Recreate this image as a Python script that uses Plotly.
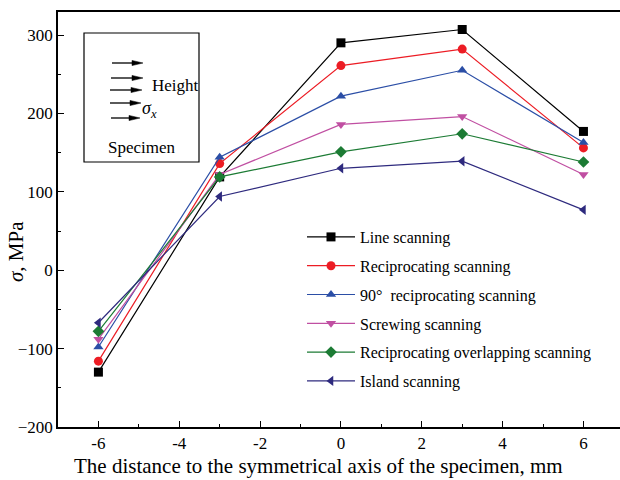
import plotly.graph_objects as go

x_mm = [-6, -3, 0, 3, 6]
series_names = [
    "Line scanning",
    "Reciprocating scanning",
    "90°  reciprocating scanning",
    "Screwing scanning",
    "Reciprocating overlapping scanning",
    "Island scanning",
]
line_scanning = [-130, 119, 290, 307, 177]
reciprocating = [-116, 136, 261, 282, 156]
reciprocating_90 = [-98, 144, 222, 255, 163]
screwing = [-88, 122, 186, 196, 122]
recip_overlap = [-78, 119, 151, 174, 138]
island = [-67, 94, 130, 139, 77]

x_ticks = [-6, -4, -2, 0, 2, 4, 6]
y_ticks = [-200, -100, 0, 100, 200, 300]
x_title = "The distance to the symmetrical axis of the specimen, mm"
y_title = "<i>σ</i>, MPa"

values = [line_scanning, reciprocating, reciprocating_90, screwing, recip_overlap, island]
colors = ["#000000", "#EC1C24", "#2B4EA6", "#C04FA2", "#1C7B34", "#2E2A7E"]
symbols = ["square", "circle", "triangle-up", "triangle-down", "diamond", "triangle-left"]

W, H = 620, 480
ML, MR, MT, MB = 58, 0, 12, 53
PW, PH = W - ML - MR, H - MT - MB


def px(xp):
    return (xp - ML) / PW


def py(yp):
    return (H - MB - yp) / PH


FONT = "Liberation Serif"

fig = go.Figure()
for i, (name, vals) in enumerate(zip(series_names, values)):
    fig.add_trace(go.Scatter(
        x=x_mm, y=vals, name=name, mode="lines+markers",
        line=dict(color=colors[i], width=1.2),
        marker=dict(symbol=symbols[i], size=9, color=colors[i],
                    line=dict(width=0)),
        legendgroup=f"g{i}",
    ))

shapes = [
    dict(type="rect", xref="paper", yref="paper",
         x0=px(84), x1=px(199), y0=py(162), y1=py(33),
         line=dict(color="black", width=1.2), fillcolor="white", layer="below"),
]

arrow_rows = [(63, 112, 143), (78, 111, 143), (90, 110, 142), (103, 110, 141), (118, 111, 140)]
for yy, xs, xe in arrow_rows:
    shapes.append(dict(type="line", xref="paper", yref="paper",
                       x0=px(xs), x1=px(xe - 8), y0=py(yy), y1=py(yy),
                       line=dict(color="black", width=1.3)))
    shapes.append(dict(type="path", xref="paper", yref="paper",
                       path=f"M {px(xe)} {py(yy)} L {px(xe - 11)} {py(yy - 2.6)} "
                            f"L {px(xe - 11)} {py(yy + 2.6)} Z",
                       fillcolor="black", line=dict(color="black", width=0.5)))

annotations = [
    dict(xref="paper", yref="paper", x=px(150), y=py(86), text="Height",
         showarrow=False, xanchor="left", yanchor="middle",
         font=dict(family=FONT, size=17, color="black")),
    dict(xref="paper", yref="paper", x=px(140), y=py(109),
         text="<i>σ</i><sub><i>x</i></sub>",
         showarrow=False, xanchor="left", yanchor="middle",
         font=dict(family=FONT, size=18, color="black")),
    dict(xref="paper", yref="paper", x=px(142), y=py(147), text="Specimen",
         showarrow=False, xanchor="center", yanchor="middle",
         font=dict(family=FONT, size=17, color="black")),
    dict(xref="paper", yref="paper", x=px(318), y=py(466), text=x_title,
         showarrow=False, xanchor="center", yanchor="middle",
         font=dict(family=FONT, size=21, color="black")),
    dict(xref="paper", yref="paper", x=px(16), y=py(252), text=y_title,
         showarrow=False, xanchor="center", yanchor="middle", textangle=-90,
         font=dict(family=FONT, size=21, color="black")),
]

fig.update_layout(
    width=W, height=H,
    margin=dict(l=ML, r=MR, t=MT, b=MB),
    paper_bgcolor="white", plot_bgcolor="white",
    font=dict(family=FONT, color="black"),
    shapes=shapes, annotations=annotations,
    showlegend=True,
    legend=dict(x=px(302), y=py(220), xanchor="left", yanchor="top",
                bgcolor="rgba(0,0,0,0)", borderwidth=0,
                font=dict(family=FONT, size=16, color="black"),
                tracegroupgap=5, itemwidth=48),
    xaxis=dict(
        range=[-7, -7 + PW / 40.42], tickvals=x_ticks,
        ticktext=[str(v) for v in x_ticks],
        showline=True, linecolor="black", linewidth=1.5, mirror=True,
        ticks="inside", ticklen=6, tickwidth=1.2, tickcolor="black",
        minor=dict(dtick=1, ticks="inside", ticklen=3, tickwidth=1.2, tickcolor="black"),
        showgrid=False, zeroline=False,
        tickfont=dict(family=FONT, size=17),
    ),
    yaxis=dict(
        range=[-200, -200 + PH / 0.784], tickvals=y_ticks,
        showline=True, linecolor="black", linewidth=1.5,
        ticks="inside", ticklen=6, tickwidth=1.2, tickcolor="black",
        minor=dict(dtick=50, ticks="inside", ticklen=3, tickwidth=1.2, tickcolor="black"),
        showgrid=False, zeroline=False,
        tickfont=dict(family=FONT, size=17),
    ),
)

fig.write_html("out.html")
